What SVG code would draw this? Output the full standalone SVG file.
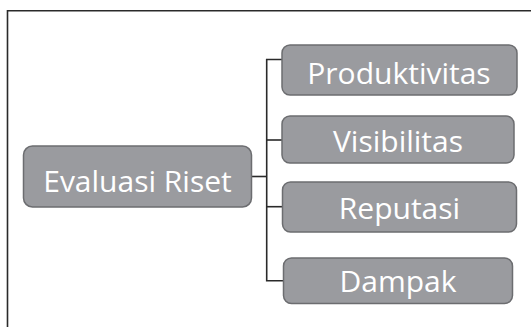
<svg xmlns="http://www.w3.org/2000/svg" width="531" height="327" viewBox="0 0 531 327">
  <style>
    .box { fill: #9a9b9f; stroke: #6c6d70; stroke-width: 1.5; }
    .lbl { fill: #ffffff; font-family: "Open Sans", "Noto Sans", "DejaVu Sans", sans-serif; font-size: 30px; text-anchor: middle; }
    .wire { fill: none; stroke: #2a2a2a; stroke-width: 1.6; }
    .frame { fill: none; stroke: #2a2a2a; stroke-width: 1.6; }
  </style>

  <!-- frame: top and left edges only -->
  <path class="frame" d="M7.5,327 V10.8 H531"/>

  <!-- tree connectors -->
  <g id="connectors">
    <path class="wire" d="M251.5,176.5 H266.7"/>
    <path class="wire" d="M282,59.5 H266.7 V280.7 H283.5"/>
    <path class="wire" d="M266.7,140 H282"/>
    <path class="wire" d="M266.7,206.7 H282.5"/>
  </g>

  <g id="evaluasi-riset">
    <rect class="box" x="23.5" y="146" width="228" height="61" rx="9"/>
    <text class="lbl" x="137.5" y="191.5">Evaluasi Riset</text>
  </g>

  <g id="produktivitas">
    <rect class="box" x="282" y="45" width="235" height="50" rx="8"/>
    <text class="lbl" x="399" y="83.5">Produktivitas</text>
  </g>

  <g id="visibilitas">
    <rect class="box" x="282" y="116" width="232" height="47" rx="8"/>
    <text class="lbl" x="398" y="152">Visibilitas</text>
  </g>

  <g id="reputasi">
    <rect class="box" x="282.5" y="182" width="234" height="50" rx="8"/>
    <text class="lbl" x="399.5" y="218.5">Reputasi</text>
  </g>

  <g id="dampak">
    <rect class="box" x="283.5" y="258" width="229" height="45.5" rx="8"/>
    <text class="lbl" x="398" y="291.8">Dampak</text>
  </g>
</svg>
